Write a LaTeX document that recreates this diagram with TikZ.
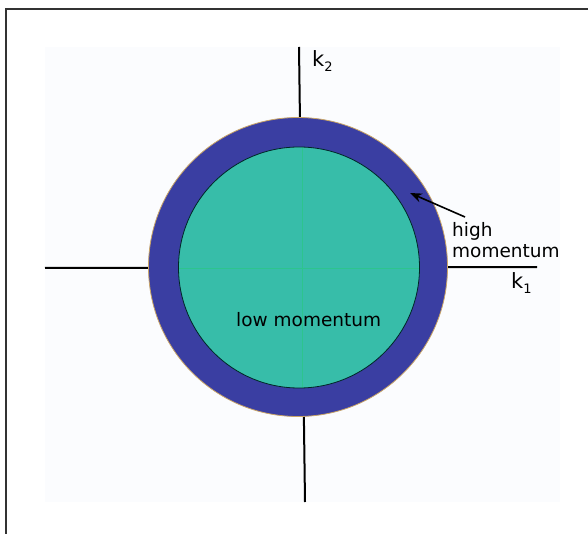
\documentclass[tikz,border=0pt]{standalone}
\usepackage{fontspec}
\setmainfont{DejaVu Sans}
\usetikzlibrary{arrows.meta}
\usetikzlibrary{calc}

\definecolor{ringblue}{HTML}{3A3EA2}
\definecolor{coreteal}{HTML}{37BDA9}
\definecolor{coreline}{HTML}{2DC48E}
\definecolor{rimtan}{HTML}{C9A466}
\definecolor{paper}{HTML}{FBFCFE}

\begin{document}
\begin{tikzpicture}[x=1pt,y=-1pt]
\useasboundingbox (0,0) rectangle (588,534);
\draw[black!80,line width=1.5pt] (6,534) -- (6,9) -- (588,9);
\fill[paper] (45,47) rectangle (560,502);

% axes
\draw[black,line width=2pt] (45,268) -- (537,267);
\draw[black,line width=2pt] (299,47) -- (305,502);

% momentum shells
\fill[ringblue] (298,267) circle [radius=149.5];
\draw[rimtan,line width=0.8pt] (298,267) circle [radius=149.5];
\fill[coreteal] (299,267.5) circle [radius=120.5];
\draw[coreline,line width=0.8pt] (178.5,268) -- (419.5,268);
\draw[coreline,line width=0.8pt] (302,147) -- (302,388);
\draw[black!70!teal,line width=0.8pt] (299,267.5) circle [radius=120.5];

% labels
\node[font=\fontsize{21}{21}\selectfont,inner sep=0,anchor=base west] (k2) at (312,67) {k\raisebox{-5pt}{\fontsize{13}{13}\selectfont 2}};
\node[font=\fontsize{21}{21}\selectfont,inner sep=0,anchor=base west] (k1) at (511,288) {k\raisebox{-5pt}{\fontsize{13}{13}\selectfont 1}};
\node[font=\fontsize{18.5}{21}\selectfont,inner sep=0,anchor=base west] (low) at (236,326) {low momentum};
\node[font=\fontsize{18.5}{21}\selectfont,inner sep=0,anchor=north west,align=left] (high) at (452,222) {high\\momentum};

\coordinate (ring) at (410,193);
\draw[black,line width=1.6pt,-{Stealth[length=12pt,width=9pt]}] ($(high.north west)+(13,-5)$) -- (ring);

\end{tikzpicture}
\end{document}
